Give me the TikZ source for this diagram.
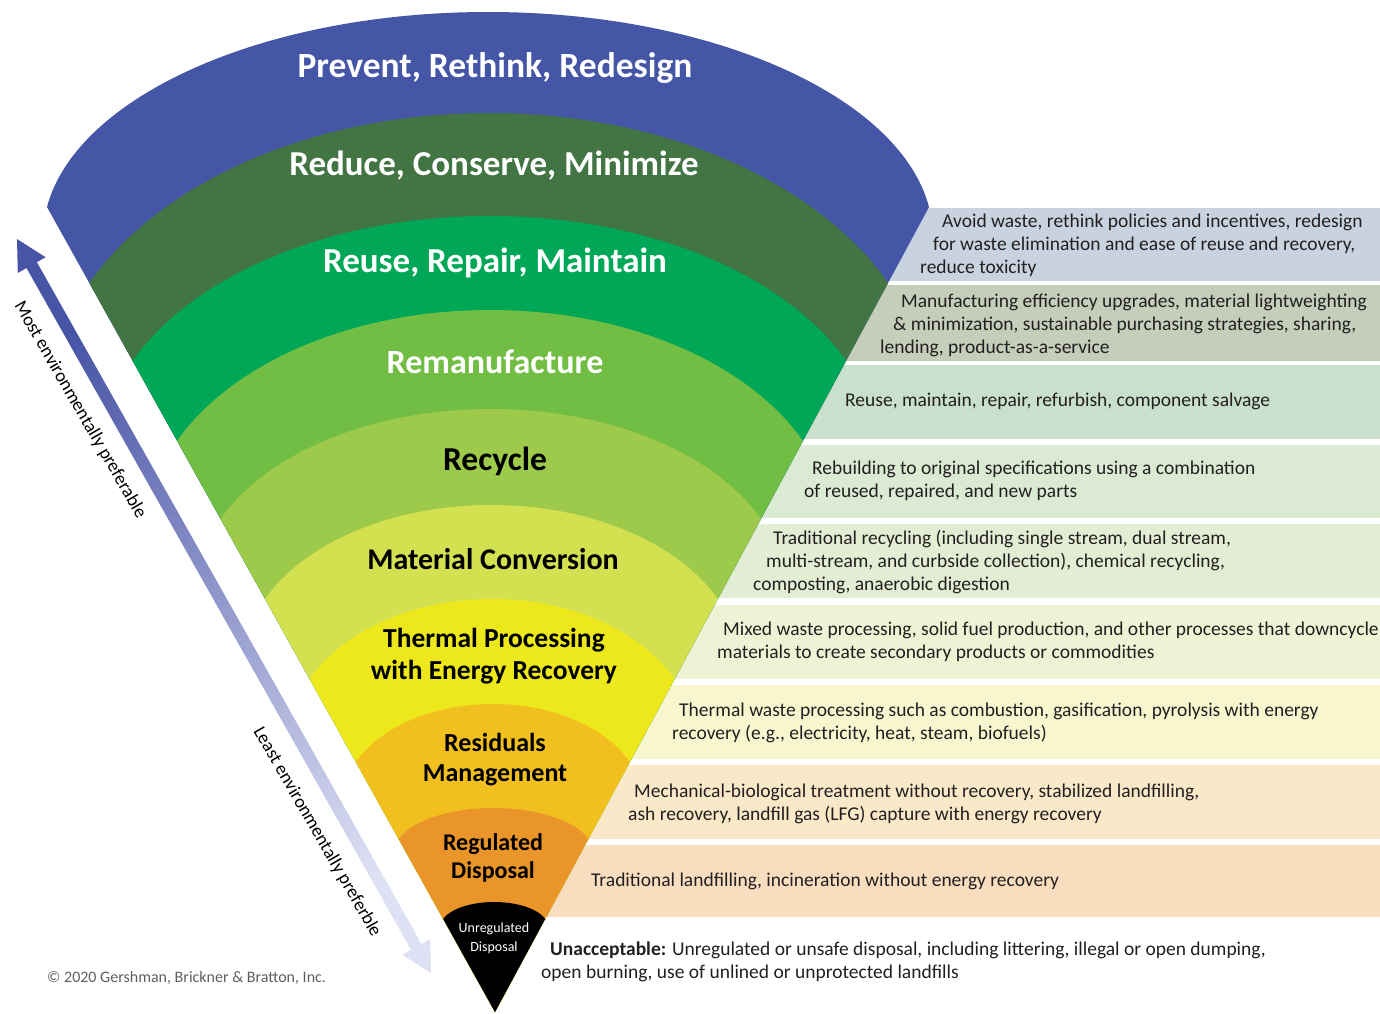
\documentclass[tikz,border=0pt]{standalone}
\usepackage{fontspec}
\setmainfont{Carlito}
\usepackage{tikz}
\definecolor{prevent}{RGB}{68,86,165}
\definecolor{reduce}{RGB}{66,116,68}
\definecolor{reuse}{RGB}{0,167,86}
\definecolor{reman}{RGB}{114,190,68}
\definecolor{recycle}{RGB}{158,202,76}
\definecolor{matconv}{RGB}{211,224,80}
\definecolor{thermal}{RGB}{237,232,27}
\definecolor{residual}{RGB}{241,192,31}
\definecolor{regulated}{RGB}{233,149,42}
\definecolor{bandprevent}{RGB}{201,211,224}
\definecolor{bandreduce}{RGB}{197,206,186}
\definecolor{bandreuse}{RGB}{201,224,204}
\definecolor{bandreman}{RGB}{218,234,211}
\definecolor{bandrecycle}{RGB}{227,237,211}
\definecolor{bandmatconv}{RGB}{237,243,212}
\definecolor{bandthermal}{RGB}{247,246,207}
\definecolor{bandresidual}{RGB}{250,233,200}
\definecolor{bandregulated}{RGB}{249,221,191}
\definecolor{arrowtop}{RGB}{72,84,166}
\definecolor{arrowbot}{RGB}{222,224,243}
\definecolor{desctext}{RGB}{35,31,32}
\definecolor{copygray}{RGB}{95,95,95}
\tikzset{
  lbl/.style n args={2}{font=\fontsize{#1}{#2}\selectfont\bfseries, align=center, inner sep=0pt},
  desc/.style={anchor=west, align=left, inner sep=0pt, text=desctext, font=\fontsize{19.5}{23}\selectfont},
  sidelbl/.style={rotate=-60, inner sep=0pt, font=\fontsize{18.5}{21}\selectfont},
}

\begin{document}
\begin{tikzpicture}[x=1pt,y=1pt]
  \useasboundingbox (0,0) rectangle (1380,-1013);
  \fill[white] (0,0) rectangle (1380,-1013);
  % bands behind the funnel
  \fill[bandprevent] (500,-208) rectangle (1380,-281);
  \fill[bandreduce] (500,-285) rectangle (1380,-361);
  \fill[bandreuse] (500,-365) rectangle (1380,-439);
  \fill[bandreman] (500,-445) rectangle (1380,-518);
  \fill[bandrecycle] (500,-524) rectangle (1380,-598);
  \fill[bandmatconv] (500,-605) rectangle (1380,-679);
  \fill[bandthermal] (500,-685) rectangle (1380,-759);
  \fill[bandresidual] (500,-765) rectangle (1380,-839);
  \fill[bandregulated] (500,-845) rectangle (1380,-917);
  % funnel layers
  \begin{scope}
    \clip (495,-1012) -- (-68.2,0) -- (1040.6,0) -- cycle;
    \fill[prevent] (43,-237.3) arc[start angle=180,end angle=0,x radius=445,y radius=225.3] -- (933,-1100) -- (43,-1100) -- cycle;
    \fill[reduce] (47.6,-408.5) arc[start angle=180,end angle=0,x radius=441.1,y radius=295.5] -- (929.8,-1100) -- (47.6,-1100) -- cycle;
    \fill[reuse] (100.6,-456.9) arc[start angle=180,end angle=0,x radius=388.8,y radius=240.9] -- (878.2,-1100) -- (100.6,-1100) -- cycle;
    \fill[reman] (146.1,-533.9) arc[start angle=180,end angle=0,x radius=343.9,y radius=223.9] -- (833.9,-1100) -- (146.1,-1100) -- cycle;
    \fill[recycle] (196.1,-592) arc[start angle=180,end angle=0,x radius=294.6,y radius=183] -- (785.3,-1100) -- (196.1,-1100) -- cycle;
    \fill[matconv] (243.3,-664.4) arc[start angle=180,end angle=0,x radius=248.1,y radius=159.4] -- (739.5,-1100) -- (243.3,-1100) -- cycle;
    \fill[thermal] (288.6,-742.7) arc[start angle=180,end angle=0,x radius=203.5,y radius=143.7] -- (695.6,-1100) -- (288.6,-1100) -- cycle;
    \fill[residual] (341.8,-804.2) arc[start angle=180,end angle=0,x radius=151.1,y radius=100.2] -- (644,-1100) -- (341.8,-1100) -- cycle;
    \fill[regulated] (394.2,-852.1) arc[start angle=180,end angle=0,x radius=99.3,y radius=44.1] -- (592.8,-1100) -- (394.2,-1100) -- cycle;
    \fill[black] (440.7,-926.4) arc[start angle=180,end angle=0,x radius=53.5,y radius=24.4] -- (547.7,-1100) -- (440.7,-1100) -- cycle;
  \end{scope}
  % layer names
  \node[lbl={35.5}{40}, text=white] (prevent) at (495,-68) {Prevent, Rethink, Redesign};
  \node[lbl={35}{40}, text=white] (reduce) at (494,-166) {Reduce, Conserve, Minimize};
  \node[lbl={35}{40}, text=white] (reuse) at (495,-263) {Reuse, Repair, Maintain};
  \node[lbl={34}{38}, text=white] (reman) at (495,-362) {Remanufacture};
  \node[lbl={33.5}{38}] (recycle) at (495,-461) {Recycle};
  \node[lbl={30}{34}] (matconv) at (493,-559) {Material Conversion};
  \node[lbl={27.5}{32}] (thermal) at (494,-656) {Thermal Processing\\with Energy Recovery};
  \node[lbl={26}{30}] (residual) at (495,-760) {Residuals\\Management};
  \node[lbl={24}{28}] (regulated) at (493,-858) {Regulated\\Disposal};
  \node[lbl={14}{19}, text=white, font=\fontsize{14}{19}\selectfont] (unregulated) at (494,-938) {Unregulated\\Disposal};
  % descriptions
  \node[desc] (dprevent) at (920,-245) {\hspace*{22pt}Avoid waste, rethink policies and incentives, redesign\\\hspace*{13pt}for waste elimination and ease of reuse and recovery,\\reduce toxicity};
  \node[desc] (dreduce) at (880,-325) {\hspace*{21pt}Manufacturing efficiency upgrades, material lightweighting\\\hspace*{13pt}\& minimization, sustainable purchasing strategies, sharing,\\lending, product-as-a-service};
  \node[desc] (dreuse) at (845,-401) {Reuse, maintain, repair, refurbish, component salvage};
  \node[desc] (dreman) at (804,-481) {\hspace*{8pt}Rebuilding to original specifications using a combination\\of reused, repaired, and new parts};
  \node[desc] (drecycle) at (753,-562) {\hspace*{20pt}Traditional recycling (including single stream, dual stream,\\\hspace*{13pt}multi-stream, and curbside collection), chemical recycling,\\composting, anaerobic digestion};
  \node[desc] (dmatconv) at (717,-642) {\hspace*{6pt}Mixed waste processing, solid fuel production, and other processes that downcycle\\materials to create secondary products or commodities};
  \node[desc] (dthermal) at (672,-723) {\hspace*{7pt}Thermal waste processing such as combustion, gasification, pyrolysis with energy\\recovery (e.g., electricity, heat, steam, biofuels)};
  \node[desc] (dresidual) at (628,-804) {\hspace*{6pt}Mechanical-biological treatment without recovery, stabilized landfilling,\\ash recovery, landfill gas (LFG) capture with energy recovery};
  \node[desc] (dregulated) at (591,-881) {Traditional landfilling, incineration without energy recovery};
  \node[desc] (dunregulated) at (541,-962) {\hspace*{9pt}\textbf{Unacceptable:} Unregulated or unsafe disposal, including littering, illegal or open dumping,\\open burning, use of unlined or unprotected landfills};
  % preference arrow
  \shade[top color=arrowtop, bottom color=arrowbot, shading angle=29.4] (17,-239) -- (45.6,-257.2) -- (36.9,-262.2) -- (421.5,-944) -- (430.2,-939) -- (431,-973) -- (402.4,-954.8) -- (411.1,-949.8) -- (26.5,-268) -- (17.8,-273) -- cycle;
  \node[sidelbl] (most) at (80,-410) {Most environmentally preferable};
  \node[sidelbl] (least) at (317,-832) {Least environmentally preferble};
  \node[anchor=west, inner sep=0pt, text=copygray, font=\fontsize{16}{19}\selectfont] (copy) at (47,-978) {\textcopyright{} 2020 Gershman, Brickner \& Bratton, Inc.};
\end{tikzpicture}
\end{document}
